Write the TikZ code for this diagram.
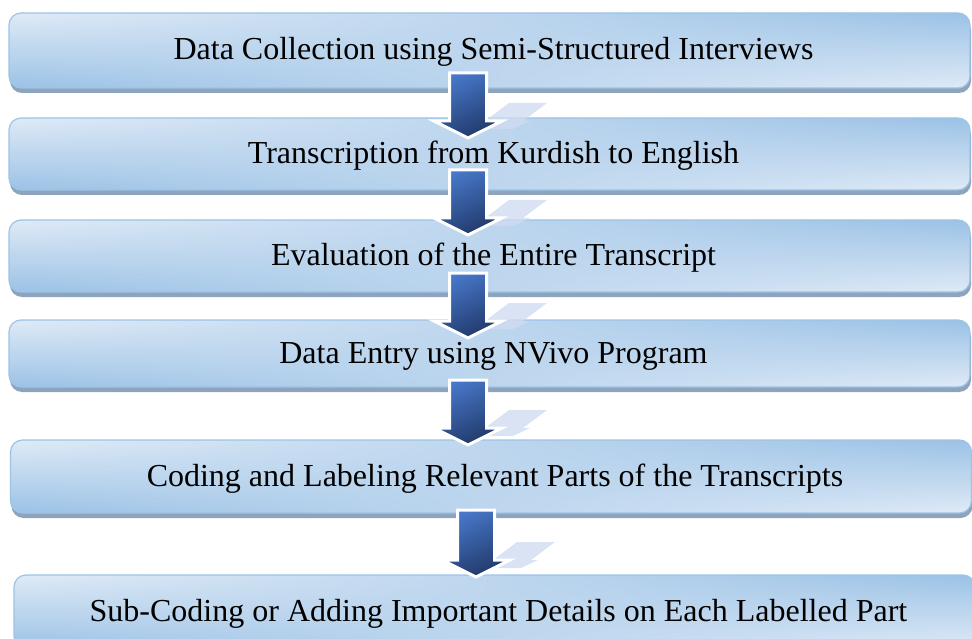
\documentclass[tikz,border=0pt]{standalone}
\usepackage{fontspec}
\setmainfont{Liberation Serif}
\usetikzlibrary{shadows,calc,fadings}
\definecolor{bdark}{RGB}{155,194,230}
\definecolor{blight}{RGB}{224,235,247}
\definecolor{bborder}{RGB}{157,195,230}
\definecolor{bshadow}{RGB}{142,163,188}
\definecolor{arrtop}{RGB}{72,120,202}
\definecolor{arrbot}{RGB}{32,56,104}
\definecolor{refl}{RGB}{208,220,240}
\tikzfading[name=fadefromleft, left color=transparent!100, right color=transparent!0]
\tikzset{
 stepbox/.style={rectangle, rounded corners=12pt, draw=bborder, line width=1.2pt,
   path picture={
     \shade[top color=blight, bottom color=bdark]
       (path picture bounding box.south west) rectangle (path picture bounding box.north east);
     \shade[top color=bdark, bottom color=blight, path fading=fadefromleft]
       (path picture bounding box.south west) rectangle (path picture bounding box.north east);
   },
   general shadow={fill=bshadow, shadow xshift=1pt, shadow yshift=-5pt},
   minimum width=961pt, inner sep=0pt, text height=22pt, text depth=3pt,
   font=\fontsize{32}{38}\selectfont},
 flowarrow/.style={draw=white, line width=3pt, line join=miter,
   top color=arrtop, bottom color=arrbot, shading angle=25},
 reflshape/.style={fill=refl, opacity=0.8}
}
\newcommand\blockarr[2]{%
 \fill[reflshape] let \p1=(#1), \p2=(#2) in
   (\x1+17pt,\y2+17pt) -- (\x1+41pt,\y2+35pt) -- (\x1+79pt,\y2+35pt) -- (\x1+55pt,\y2+17pt) -- cycle
   (\x1+18pt,\y2+17pt) -- (\x1+62pt,\y2+17pt) -- (\x1+45pt,\y2+9pt) -- (\x1-10pt,\y2+9pt) -- cycle;
 \shadedraw[flowarrow] let \p1=(#1), \p2=(#2) in
   (\x1-18.5pt,\y1) -- (\x1+18.5pt,\y1) -- (\x1+18.5pt,\y2+17pt) -- (\x1+34pt,\y2+17pt)
   -- (\x2,\y2) -- (\x1-34pt,\y2+17pt) -- (\x1-18.5pt,\y2+17pt) -- cycle;
}
\begin{document}
\begin{tikzpicture}[x=1pt,y=-1pt]
\useasboundingbox (0,0) rectangle (972,639);
\node[stepbox, minimum height=75pt] (b1) at (489.5,50.5) {\hspace*{8pt}Data Collection using Semi-Structured Interviews};
\node[stepbox, minimum height=72pt] (b2) at (489.5,154) {\hspace*{8pt}Transcription from Kurdish to English};
\node[stepbox, minimum height=72pt] (b3) at (489.5,256) {\hspace*{8pt}Evaluation of the Entire Transcript};
\node[stepbox, minimum height=67pt] (b4) at (489.5,353.5) {\hspace*{8pt}Data Entry using NVivo Program};
\node[stepbox, minimum height=73pt] (b5) at (491,476.5) {\hspace*{8pt}Coding and Labeling Relevant Parts of the Transcripts};
\node[stepbox, minimum height=73pt] (b6) at (494.5,611.5) {\hspace*{8pt}Sub-Coding or Adding Important Details on Each Labelled Part};
\coordinate (a1s) at (468,73);  \coordinate (a1e) at (468,138);
\coordinate (a2s) at (468,170); \coordinate (a2e) at (468,235);
\coordinate (a3s) at (468,273); \coordinate (a3e) at (468,338);
\coordinate (a4s) at (468,380); \coordinate (a4e) at (468,445);
\coordinate (a5s) at (476,510); \coordinate (a5e) at (476,577);
\blockarr{a1s}{a1e}
\blockarr{a2s}{a2e}
\blockarr{a3s}{a3e}
\blockarr{a4s}{a4e}
\blockarr{a5s}{a5e}
\end{tikzpicture}
\end{document}
